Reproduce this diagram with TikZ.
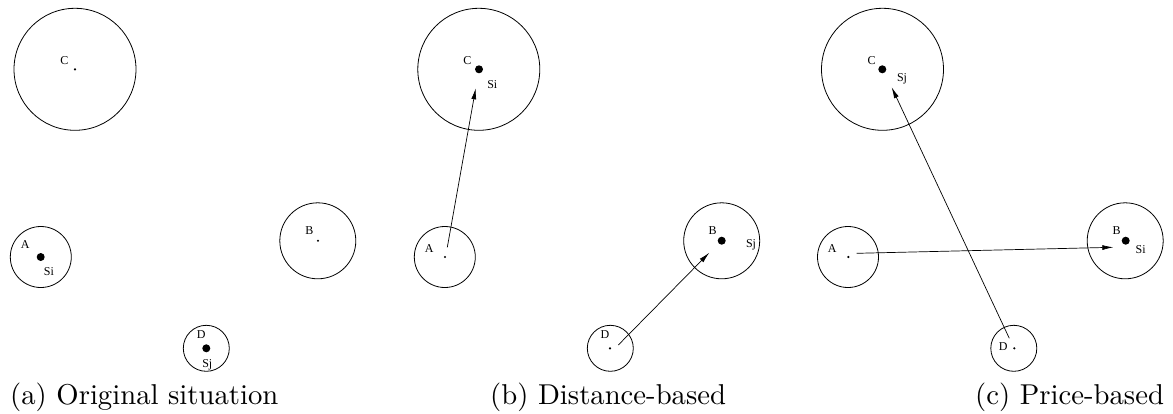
\documentclass[tikz,border=0pt]{standalone}
\usepackage{fontspec}
\newfontfamily\lblfont{Liberation Serif}
\font\capfont="[lmroman10-regular]:mapping=tex-text" at 28.7pt
\usetikzlibrary{arrows.meta}
\begin{document}
\begin{tikzpicture}[x=1pt,y=-1pt,
  ring/.style={circle,draw,line width=0.8pt,inner sep=0pt,minimum size=#1},
  bigdot/.style={circle,fill,inner sep=0pt,minimum size=8pt},
  smalldot/.style={circle,fill,inner sep=0pt,minimum size=2.4pt},
  lbl/.style={font=\lblfont\fontsize{12}{12}\selectfont,inner sep=0pt},
  captext/.style={font=\capfont,inner sep=0pt,anchor=base west},
  arr/.style={line width=0.7pt,-{Latex[length=11pt,width=5pt]}}]
\useasboundingbox (0,0) rectangle (1173,413);
% ---------- (a) ----------
\node[ring=122pt] (Ca) at (75,69.3) {};
\node[smalldot] (ca) at (75,69.3) {};
\node[lbl] at (64.3,61) {C};
\node[ring=61pt] (Aa) at (40.8,257) {};
\node[bigdot] (aa) at (40.7,257) {};
\node[lbl] at (25.3,244.3) {A};
\node[lbl] at (49,271.7) {Si};
\node[ring=76pt] (Ba) at (317.8,240.8) {};
\node[smalldot] (ba) at (318,240.7) {};
\node[lbl] at (309.3,231) {B};
\node[ring=46pt] (Da) at (206.3,348.3) {};
\node[bigdot] (da) at (206.3,348.3) {};
\node[lbl] at (201.3,334.3) {D};
\node[lbl] at (207.3,364.3) {Sj};
\node[captext] (capa) at (10,404) {(a) Original situation};
% ---------- (b) ----------
\node[ring=122pt] (Cb) at (478.8,69.3) {};
\node[bigdot] (cb) at (479,69.3) {};
\node[lbl] at (467.3,61) {C};
\node[lbl] at (492.3,84.3) {Si};
\node[ring=61pt] (Ab) at (444.8,257) {};
\node[smalldot] (ab) at (445,257) {};
\node[lbl] at (429.3,248.7) {A};
\node[ring=76pt] (Bb) at (721.7,240.8) {};
\node[bigdot] (bb) at (721.7,240.7) {};
\node[lbl] at (712.7,231) {B};
\node[lbl] at (751,245) {Sj};
\node[ring=46pt] (Db) at (610.3,348.3) {};
\node[smalldot] (db) at (610,348.3) {};
\node[lbl] at (605,335) {D};
\coordinate (abs) at (447.3,247.3);
\coordinate (abe) at (475.7,88.3);
\coordinate (dbs) at (618.3,345);
\coordinate (dbe) at (709.3,252.7);
\draw[arr] (abs) -- (abe);
\draw[arr] (dbs) -- (dbe);
\node[captext] (capb) at (490,404) {(b) Distance-based};
% ---------- (c) ----------
\node[ring=122pt] (Cc) at (882.5,69.3) {};
\node[bigdot] (cc) at (882.3,69.3) {};
\node[lbl] at (871.7,61) {C};
\node[lbl] at (902,79.3) {Sj};
\node[ring=61pt] (Ac) at (848,257) {};
\node[smalldot] (ac) at (848.3,257) {};
\node[lbl] at (832.3,248.7) {A};
\node[ring=76pt] (Bc) at (1125.2,240.8) {};
\node[bigdot] (bc) at (1125.7,240.7) {};
\node[lbl] at (1116.7,231) {B};
\node[lbl] at (1140.7,249.3) {Si};
\node[ring=46pt] (Dc) at (1013.8,348.3) {};
\node[smalldot] (dc) at (1014.3,348.3) {};
\node[lbl] at (1003.3,346.7) {D};
\coordinate (acs) at (856.7,253.3);
\coordinate (ace) at (1113.3,247.3);
\coordinate (dcs) at (1009.3,338.3);
\coordinate (dce) at (891.7,87.3);
\draw[arr] (acs) -- (ace);
\draw[arr] (dcs) -- (dce);
\node[captext] (capc) at (975,404) {(c) Price-based};
\end{tikzpicture}
\end{document}
